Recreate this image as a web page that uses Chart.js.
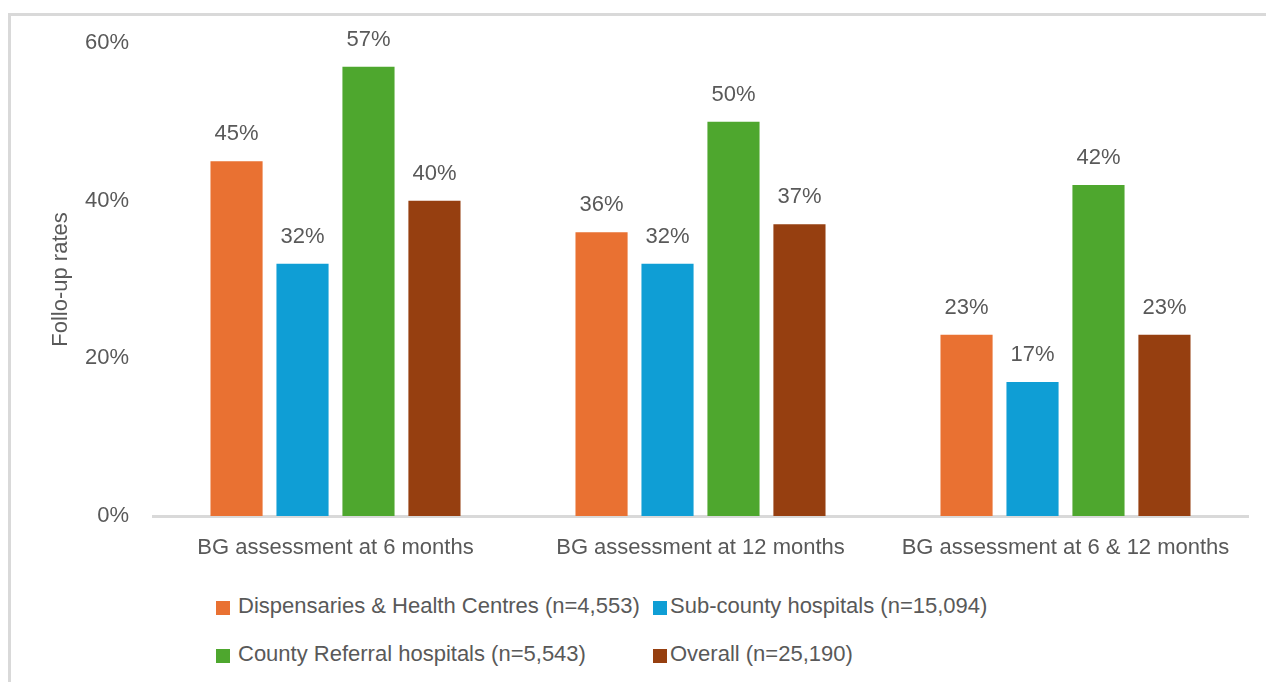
<!DOCTYPE html>
<html>
<head>
<meta charset="utf-8">
<script src="https://cdn.jsdelivr.net/npm/chart.js@4/dist/chart.umd.min.js"></script>
<style>
  html, body { margin: 0; padding: 0; background: #ffffff; }
  #wrap { position: relative; width: 1266px; height: 682px; overflow: hidden; }
  #frame { position: absolute; left: 8px; top: 13px; width: 1300px; height: 700px;
           border: 3px solid #d9d9d9; box-sizing: border-box; }
  #chart { position: absolute; left: 0; top: 0; }
  #legend { position: absolute; left: 216px; top: 582px; display: grid;
            grid-template-columns: 437px auto; grid-auto-rows: 48px;
            font-family: 'Liberation Sans', Arial, sans-serif; font-size: 22px; color: #595959; }
  .item { display: flex; align-items: center; white-space: nowrap; }
  .sw { width: 14px; height: 14px; margin-top: 4px; flex: none; }
</style>
</head>
<body>
<div id="wrap">
  <div id="frame"></div>
  <canvas id="chart" width="1266" height="575"></canvas>
  <div id="legend"></div>
</div>
<script>
// Follow-up rates (%) by facility level
const categories = ['BG assessment at 6 months', 'BG assessment at 12 months', 'BG assessment at 6 & 12 months'];
const dispensaries = [45, 36, 23];
const subCounty = [32, 32, 17];
const countyReferral = [57, 50, 42];
const overall = [40, 37, 23];
const seriesNames = [
  'Dispensaries & Health Centres (n=4,553)',
  'Sub-county hospitals (n=15,094)',
  'County Referral hospitals (n=5,543)',
  'Overall (n=25,190)'
];
const seriesColors = ['#E97132', '#0F9ED5', '#4EA72E', '#963F10'];
const yTicks = [0, 20, 40, 60];

const FONT = "'Liberation Sans', Arial, sans-serif";
const TEXT = '#595959';

// value labels printed above each bar
const barLabels = {
  id: 'barLabels',
  afterDatasetsDraw(chart) {
    const ctx = chart.ctx;
    ctx.save();
    ctx.font = '22px ' + FONT;
    ctx.fillStyle = TEXT;
    ctx.textAlign = 'center';
    ctx.textBaseline = 'alphabetic';
    chart.data.datasets.forEach((ds, i) => {
      chart.getDatasetMeta(i).data.forEach((bar, j) => {
        ctx.fillText(ds.data[j] + '%', bar.x, bar.y - 21);
      });
    });
    ctx.restore();
  }
};

const seriesData = [dispensaries, subCounty, countyReferral, overall];

const chart = new Chart(document.getElementById('chart'), {
  type: 'bar',
  data: {
    labels: categories,
    datasets: seriesData.map((d, i) => ({
      label: seriesNames[i],
      data: d,
      backgroundColor: seriesColors[i],
      categoryPercentage: 0.723,
      barPercentage: 0.79
    }))
  },
  options: {
    responsive: false,
    animation: false,
    layout: { padding: { top: 43, right: 18, left: 0, bottom: 0 } },
    plugins: { legend: { display: false }, tooltip: { enabled: false } },
    scales: {
      x: {
        grid: { display: false, drawTicks: false },
        border: { display: true, color: '#d9d9d9', width: 3 },
        ticks: { font: { family: FONT, size: 22 }, color: TEXT, padding: 19, maxRotation: 0 },
        afterFit(scale) { scale.height = 59; }
      },
      y: {
        min: 0, max: 60,
        afterBuildTicks(scale) { scale.ticks = yTicks.map(v => ({ value: v })); },
        grid: { display: false, drawTicks: false },
        border: { display: false },
        ticks: { font: { family: FONT, size: 22 }, color: TEXT, padding: 24,
                 callback: v => v + '%' },
        title: { display: true, text: 'Follo-up rates', color: TEXT,
                 font: { family: FONT, size: 22 }, padding: { top: 48, bottom: 0 } },
        afterFit(scale) { scale.width = 153; }
      }
    }
  },
  plugins: [barLabels]
});

// two-column legend built from the chart's datasets
const legendEl = document.getElementById('legend');
const order = [0, 1, 2, 3];
order.forEach(i => {
  const ds = chart.data.datasets[i];
  const item = document.createElement('div');
  item.className = 'item';
  const sw = document.createElement('span');
  sw.className = 'sw';
  sw.style.background = ds.backgroundColor;
  sw.style.marginRight = (i % 2 === 0) ? '8px' : '3px';
  const tx = document.createElement('span');
  tx.textContent = ds.label;
  item.appendChild(sw);
  item.appendChild(tx);
  legendEl.appendChild(item);
});
</script>
</body>
</html>
